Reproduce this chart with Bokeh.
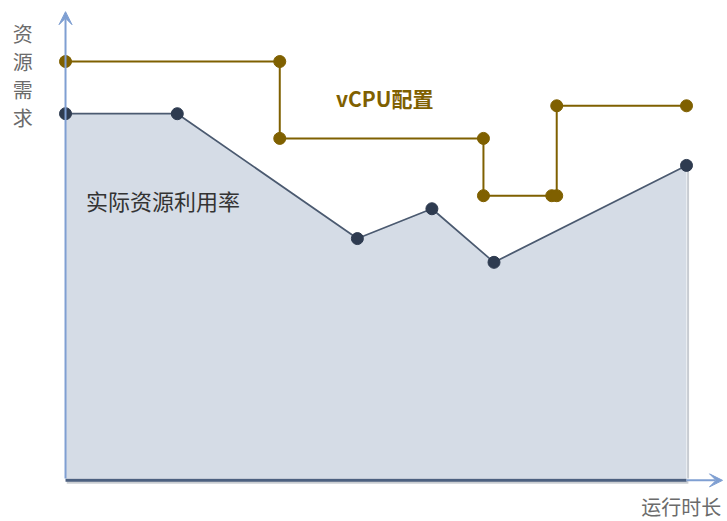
from bokeh.plotting import figure
from bokeh.models import ColumnDataSource, Arrow, VeeHead, Label, Range1d
from bokeh.embed import file_html
from bokeh.resources import INLINE

# actual utilization (time, resource)
util_x = [0, 18, 47, 59, 69, 100]
util_y = [78.3, 78.3, 51.5, 57.9, 46.4, 67.2]

# vCPU configuration step path
vcpu_x = [0, 34.5, 34.5, 67.3, 67.3, 78.3, 79.1, 79.1, 100]
vcpu_y = [89.5, 89.5, 73.0, 73.0, 60.7, 60.7, 60.7, 80.0, 80.0]

y_title = "资源需求"
x_title = "运行时长"
vcpu_label = "vCPU配置"
util_label = "实际资源利用率"

FONT = "Noto Sans CJK SC"

p = figure(width=727, height=521, output_backend="svg", toolbar_location=None,
           x_range=Range1d(-10.47, 106.6), y_range=Range1d(-9.23, 102.6),
           min_border=0)
p.axis.visible = False
p.grid.visible = False
p.outline_line_color = None
p.background_fill_color = "white"

src_u = ColumnDataSource(dict(x=util_x, y=util_y))
src_v = ColumnDataSource(dict(x=vcpu_x, y=vcpu_y))

# area
p.varea(x=util_x, y1=[0]*len(util_x), y2=util_y, fill_color="#d5dce6")
# right edge shadow
p.segment(x0=[util_x[-1] + 0.25], y0=[0], x1=[util_x[-1] + 0.25], y1=[util_y[-1]],
          line_color="#c8ccd2", line_width=2)
p.line("x", "y", source=src_u, line_color="#4b5a70", line_width=1.7)
p.scatter("x", "y", source=src_u, size=12, fill_color="#2e3b50", line_color="#2e3b50")

# vCPU step
p.line("x", "y", source=src_v, line_color="#7f6000", line_width=2)
p.scatter("x", "y", source=src_v, size=12, fill_color="#7f6000", line_color="#7f6000")

# axes
p.add_layout(Arrow(x_start=0, y_start=0, x_end=0, y_end=100.2,
                   line_color="#7f9fd2", line_width=2,
                   end=VeeHead(size=13, fill_color="#7f9fd2", line_color="#7f9fd2")))
p.add_layout(Arrow(x_start=100, y_start=-0.4, x_end=105.8, y_end=-0.4,
                   line_color="#7f9fd2", line_width=2,
                   end=VeeHead(size=13, fill_color="#7f9fd2", line_color="#7f9fd2")))
# shadow of baseline
p.segment(x0=[0.2], y0=[-0.8], x1=[100.3], y1=[-0.8], line_color="#a9adb4", line_width=3, line_alpha=0.6)
p.segment(x0=[0], y0=[-0.4], x1=[100], y1=[-0.4], line_color="#4c6080", line_width=3)

# labels
p.add_layout(Label(x=-6.9, y=98.6, text="\n".join(y_title), text_font=FONT,
                   text_font_size="20px", text_color="#6b6b6b",
                   text_align="center", text_baseline="top", text_line_height=0.96))
p.add_layout(Label(x=105.6, y=-2.9, text=x_title, text_font=FONT,
                   text_font_size="20px", text_color="#6b6b6b",
                   text_align="right", text_baseline="top"))
p.add_layout(Label(x=51.4, y=81.6, text=vcpu_label, text_font=FONT,
                   text_font_size="21px", text_font_style="bold", text_color="#7f6000",
                   text_align="center", text_baseline="middle"))
p.add_layout(Label(x=3.3, y=59.7, text=util_label, text_font=FONT,
                   text_font_size="22px", text_color="#333333",
                   text_align="left", text_baseline="middle"))

open("out.html", "w").write(file_html(p, INLINE))
